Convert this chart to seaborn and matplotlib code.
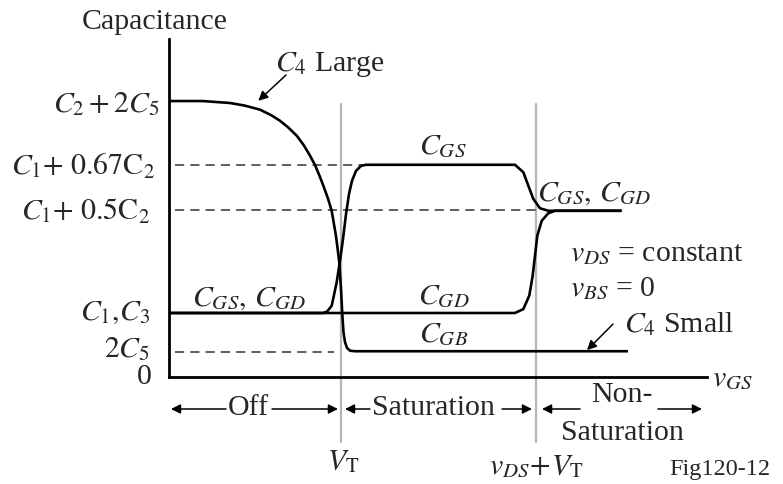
import matplotlib
matplotlib.use("Agg")
import matplotlib.pyplot as plt
import seaborn as sns
import pandas as pd

# Capacitance levels on the vertical axis
level_labels = [r"$C_2 + 2C_5$", r"$C_1\mathrm{+\ 0.67C_2}$", r"$C_1\mathrm{+\ 0.5C_2}$",
                r"$C_1{,}C_3$", r"$2C_5$", "0"]
level_values = [10.0, 7.65, 6.03, 2.31, 0.92, 0.0]

# Region boundaries on the v_GS axis
v_t = 3.2
v_ds_plus_v_t = 6.82

# C4 large curve dropping into C_GB
cgb_x = [0, 0.632, 1.134, 1.4, 1.691, 1.9, 2.063, 2.22, 2.374, 2.5, 2.621, 2.714, 2.79,
         2.868, 2.95, 3.024, 3.104, 3.165, 3.197, 3.221, 3.243, 3.271, 3.309, 3.364, 3.457, 8.53]
cgb_y = [9.96, 9.96, 9.89, 9.80, 9.65, 9.45, 9.25, 9.0, 8.71, 8.38, 7.99, 7.65, 7.3,
         6.91, 6.47, 6.00, 5.09, 4.15, 3.18, 2.27, 1.62, 1.26, 1.05, 0.95, 0.93, 0.93]

# C_GS curve
cgs_x = [0, 2.862, 2.937, 3.024, 3.117, 3.178, 3.234, 3.290, 3.346, 3.401, 3.476, 3.569, 3.662,
         6.431, 6.586, 6.678, 6.771, 6.896, 7.050, 8.414]
cgs_y = [2.31, 2.31, 2.36, 2.57, 3.42, 4.19, 4.98, 5.88, 6.61, 7.08, 7.44, 7.62, 7.66,
         7.66, 7.39, 6.91, 6.43, 6.09, 6.00, 6.00]

# C_GD curve
cgd_x = [0, 6.43, 6.586, 6.697, 6.760, 6.803, 6.846, 6.928, 7.050, 7.175, 8.414]
cgd_y = [2.31, 2.31, 2.45, 2.94, 3.66, 4.38, 5.10, 5.64, 5.91, 6.00, 6.00]

sns.set_style("white")
plt.rcParams["font.family"] = ["Liberation Serif", "DejaVu Serif"]
plt.rcParams["mathtext.fontset"] = "stix"
FS = 21.5

fig = plt.figure(figsize=(7.83, 4.85), dpi=100)
ax = fig.add_axes([169 / 783, 107 / 485, 538 / 783, 338 / 485])
ax.set_xlim(0, 10)
ax.set_ylim(0, 12.2)

for xs, ys in [(cgb_x, cgb_y), (cgs_x, cgs_y), (cgd_x, cgd_y)]:
    df = pd.DataFrame({"x": xs, "y": ys})
    sns.lineplot(data=df, x="x", y="y", sort=False, estimator=None, color="black",
                 lw=1.9, ax=ax, solid_joinstyle="round", solid_capstyle="butt")

# Region boundaries
for xv in [v_t, v_ds_plus_v_t]:
    ax.plot([xv, xv], [-2.33, 9.86], color="#b5b5b5", lw=1.6, clip_on=False, zorder=1)

# Reference dashed levels
dash = dict(color="#333333", lw=1.1, linestyle=(0, (6, 4)), zorder=1)
ax.plot([0.11, 3.6], [level_values[1]] * 2, **dash)
ax.plot([0.11, 6.84], [level_values[2]] * 2, **dash)
ax.plot([0.11, 3.07], [level_values[4]] * 2, **dash)

# Axes styling
for s in ["top", "right"]:
    ax.spines[s].set_visible(False)
for s in ["left", "bottom"]:
    ax.spines[s].set_linewidth(2.0)
    ax.spines[s].set_color("black")
ax.set_xticks([])
ax.set_yticks([])
ax.set_xlabel("")
ax.set_ylabel("")

# Level labels on the left
label_right = [-0.167, -0.26, -0.353, -0.353, -0.353, -0.316]
label_y = [9.89, 7.65, 6.03, 2.35, 1.03, 0.02]
for lab, xr, yc in zip(level_labels, label_right, label_y):
    ax.text(xr, yc, lab, ha="right", va="center", fontsize=FS, clip_on=False)

ax.text(-0.26, 12.85, "Capacitance", ha="center", va="center", fontsize=FS, clip_on=False)

# Curve labels
ax.text(1.97, 11.3, r"$C_4$ Large", ha="left", va="center", fontsize=FS)
ax.text(8.457, 1.95, r"$C_4$ Small", ha="left", va="center", fontsize=FS, clip_on=False)
ax.text(0.43, 2.39, r"$C_{GS},\,C_{GD}$", ha="left", va="bottom", fontsize=FS)
ax.text(5.09, 7.87, r"$C_{GS}$", ha="center", va="bottom", fontsize=FS)
ax.text(5.10, 2.45, r"$C_{GD}$", ha="center", va="bottom", fontsize=FS)
ax.text(5.10, 1.08, r"$C_{GB}$", ha="center", va="bottom", fontsize=FS)
ax.text(6.84, 6.17, r"$C_{GS},\,C_{GD}$", ha="left", va="bottom", fontsize=FS)
ax.text(7.45, 4.01, r"$v_{DS}$ = constant", ha="left", va="bottom", fontsize=FS)
ax.text(7.45, 2.74, r"$v_{BS}$ = 0", ha="left", va="bottom", fontsize=FS)

arrow = dict(arrowstyle="-|>", lw=1.1, color="black", mutation_scale=14, shrinkA=0, shrinkB=0)
ax.annotate("", xy=(1.66, 9.97), xytext=(2.175, 10.90), arrowprops=arrow)
ax.annotate("", xy=(7.77, 0.97), xytext=(8.253, 1.91), arrowprops=arrow)

# Axis label and region annotations below the axis
ax.text(10.09, -0.51, r"$v_{GS}$", ha="left", va="bottom", fontsize=FS, clip_on=False)
ax.text(3.23, -3.5, r"$V_{\mathrm{T}}$", ha="center", va="bottom", fontsize=FS, clip_on=False)
ax.text(6.83, -3.68, r"$v_{DS}\!+\!V_{\mathrm{T}}$", ha="center", va="bottom", fontsize=FS,
        clip_on=False)
ax.text(10.24, -3.32, "Fig120-12", ha="center", va="center", fontsize=17.5, clip_on=False)

ya = -1.155
ax.text(1.478, -1.08, "Off", ha="center", va="center", fontsize=FS, clip_on=False)
ax.annotate("", xy=(0.037, ya), xytext=(1.06, ya), arrowprops=arrow, annotation_clip=False)
ax.annotate("", xy=(3.141, ya), xytext=(1.915, ya), arrowprops=arrow, annotation_clip=False)

ax.text(4.916, -1.08, "Saturation", ha="center", va="center", fontsize=FS, clip_on=False)
ax.annotate("", xy=(3.271, ya), xytext=(3.736, ya), arrowprops=arrow, annotation_clip=False)
ax.annotate("", xy=(6.747, ya), xytext=(6.19, ya), arrowprops=arrow, annotation_clip=False)

ax.text(8.41, -0.614, "Non-", ha="center", va="center", fontsize=FS, clip_on=False)
ax.text(8.43, -1.986, "Saturation", ha="center", va="center", fontsize=FS, clip_on=False)
ax.annotate("", xy=(6.933, ya), xytext=(7.64, ya), arrowprops=arrow, annotation_clip=False)
ax.annotate("", xy=(9.907, ya), xytext=(9.089, ya), arrowprops=arrow, annotation_clip=False)

fig.savefig("out.png", dpi=100, facecolor="white")
